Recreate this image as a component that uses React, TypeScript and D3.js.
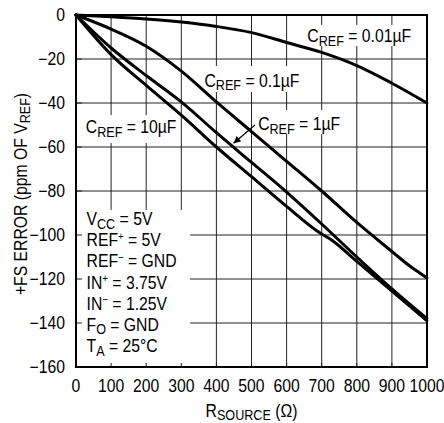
import React from "react";
import * as d3 from "d3";

// ---- data ----
const xTicks = [0, 100, 200, 300, 400, 500, 600, 700, 800, 900, 1000];
const yTicks = [0, -20, -40, -60, -80, -100, -120, -140, -160];

const cref001R = [0, 100, 200, 300, 400, 500, 600, 700, 800, 900, 1000];
const cref001V = [0, -0.8, -1.8, -3.2, -5.2, -8, -12.5, -17, -23, -31, -40];

const cref01R = [0, 100, 200, 300, 400, 500, 600, 700, 800, 900, 950, 1000];
const cref01V = [0, -6.4, -14.2, -25.5, -39.5, -53, -66.5, -80, -94.3, -107.5, -114, -119.5];

const cref1R = [0, 100, 200, 300, 400, 500, 600, 700, 800, 900, 1000];
const cref1V = [0, -15, -27.5, -39.5, -53.5, -67, -80.5, -95, -110, -124.5, -138];

const cref10R = [0, 100, 200, 300, 400, 500, 600, 690, 730, 800, 900, 1000];
const cref10V = [0, -18, -32, -45.5, -60, -73.5, -87, -98.5, -102.5, -112, -125.5, -139];

const conditionLines = [
  [{ t: "V" }, { t: "CC", s: "sub" }, { t: " = 5V" }],
  [{ t: "REF" }, { t: "+", s: "sup" }, { t: " = 5V" }],
  [{ t: "REF" }, { t: "\u2212", s: "sup" }, { t: " = GND" }],
  [{ t: "IN" }, { t: "+", s: "sup" }, { t: " = 3.75V" }],
  [{ t: "IN" }, { t: "\u2212", s: "sup" }, { t: " = 1.25V" }],
  [{ t: "F" }, { t: "O", s: "sub" }, { t: " = GND" }],
  [{ t: "T" }, { t: "A", s: "sub" }, { t: " = 25\u00B0C" }],
];

type Seg = { t: string; s?: "sub" | "sup" };

const W = 444;
const H = 423;
const FS = 17.5;
const SX = 0.9;
const FONT = "'Liberation Sans', Arial, Helvetica, sans-serif";

const x = d3.scaleLinear().domain([0, 1000]).range([76, 427]);
const y = d3.scaleLinear().domain([0, -160]).range([15, 367]);

function Rich({ segs, fs = FS }: { segs: Seg[]; fs?: number }) {
  let off = 0;
  return (
    <>
      {segs.map((sg, i) => {
        let target = 0;
        let size = fs;
        if (sg.s === "sub") {
          target = fs * 0.2;
          size = fs * 0.8;
        } else if (sg.s === "sup") {
          target = -fs * 0.38;
          size = fs * 0.62;
        }
        const dy = target - off;
        off = target;
        return (
          <tspan key={i} dy={dy} fontSize={size}>
            {sg.t}
          </tspan>
        );
      })}
    </>
  );
}

function Label({ px, py, segs, anchor = "start", rotate = 0 }: { px: number; py: number; segs: Seg[]; anchor?: string; rotate?: number }) {
  return (
    <g transform={`translate(${px},${py}) rotate(${rotate}) scale(${SX},1)`}>
      <text x={0} y={0} textAnchor={anchor} fontSize={FS} fontFamily={FONT} fill="#000">
        <Rich segs={segs} />
      </text>
    </g>
  );
}

const crefLabel = (v: string): Seg[] => [{ t: "C" }, { t: "REF", s: "sub" }, { t: ` = ${v}\u00B5F` }];

// annotation placements (data units)
const labels = [
  { r: 659, v: -12.3, segs: crefLabel("0.01") },
  { r: 366, v: -32.7, segs: crefLabel("0.1") },
  { r: 28, v: -53.8, segs: crefLabel("10") },
  { r: 519, v: -52.3, segs: crefLabel("1") },
];
const boxes = [
  { r0: 650, r1: 971, v0: -4.5, v1: -14.1 },
  { r0: 359, r1: 644, v0: -23.2, v1: -35 },
  { r0: 507, r1: 758, v0: -43.2, v1: -54.1 },
  { r0: 17, r1: 293, v0: -45.5, v1: -58.2 },
  { r0: 0, r1: 325, v0: -88.6, v1: -160 },
];

export default function App() {
  const line = d3
    .line<[number, number]>()
    .x((d) => x(d[0]))
    .y((d) => y(d[1]))
    .curve(d3.curveMonotoneX);

  const series = [
    [cref001R, cref001V],
    [cref01R, cref01V],
    [cref1R, cref1V],
    [cref10R, cref10V],
  ].map(([r, v]) => r.map((rr, i) => [rr, v[i]] as [number, number]));

  const [x0, x1] = x.range();
  const [y0, y1] = y.range();

  return (
    <svg
      width={W}
      height={H}
      style={{ position: "absolute", left: 0, top: 0, background: "#fff" }}
    >
      <defs>
        <marker id="ah" viewBox="0 0 10 10" refX="10" refY="5" markerWidth="8" markerHeight="7" markerUnits="userSpaceOnUse" orient="auto">
          <path d="M0,0 L10,5 L0,10 z" fill="#000" />
        </marker>
      </defs>
      <rect x={0} y={0} width={W} height={H} fill="#fff" />
      {/* grid */}
      {xTicks.map((t) => (
        <line key={"gx" + t} x1={x(t)} x2={x(t)} y1={y0} y2={y1} stroke="#222" strokeWidth={1} />
      ))}
      {yTicks.map((t) => (
        <line key={"gy" + t} x1={x0} x2={x1} y1={y(t)} y2={y(t)} stroke="#222" strokeWidth={1} />
      ))}
      {/* label backgrounds */}
      {boxes.map((b, i) => (
        <rect
          key={"b" + i}
          x={x(b.r0)}
          y={y(b.v0)}
          width={x(b.r1) - x(b.r0)}
          height={y(b.v1) - y(b.v0)}
          fill="#fff"
        />
      ))}
      {/* inward ticks */}
      {xTicks.map((t) => (
        <line key={"tx" + t} x1={x(t)} x2={x(t)} y1={y1} y2={y1 - 4} stroke="#222" strokeWidth={1} />
      ))}
      {yTicks.map((t) => (
        <line key={"ty" + t} x1={x0} x2={x0 + 6} y1={y(t)} y2={y(t)} stroke="#222" strokeWidth={1} />
      ))}
      {/* curves */}
      {series.map((s, i) => (
        <path key={"s" + i} d={line(s) || ""} fill="none" stroke="#000" strokeWidth={3} strokeLinejoin="round" strokeLinecap="round" />
      ))}
      {/* frame */}
      <rect x={x0} y={y0} width={x1 - x0} height={y1 - y0} fill="none" stroke="#000" strokeWidth={2} />
      {/* tick labels */}
      {xTicks.map((t) => (
        <Label key={"lx" + t} px={x(t)} py={391.5} anchor="middle" segs={[{ t: String(t) }]} />
      ))}
      {yTicks.map((t) => (
        <Label
          key={"ly" + t}
          px={65}
          py={y(t) + 6.3}
          anchor="end"
          segs={[{ t: t < 0 ? "\u2212" + Math.abs(t) : String(t) }]}
        />
      ))}
      {/* axis titles */}
      <Label px={251.5} py={416.5} anchor="middle" segs={[{ t: "R" }, { t: "SOURCE", s: "sub" }, { t: " (\u03A9)" }]} />
      <Label
        px={26.5}
        py={194}
        anchor="middle"
        rotate={-90}
        segs={[{ t: "+FS ERROR (ppm OF V" }, { t: "REF", s: "sub" }, { t: ")" }]}
      />
      {/* curve labels */}
      {labels.map((l, i) => (
        <Label key={"cl" + i} px={x(l.r)} py={y(l.v)} segs={l.segs} />
      ))}
      {/* arrow for 1uF */}
      <line x1={x(510)} y1={y(-50)} x2={x(449)} y2={y(-58.3)} stroke="#000" strokeWidth={1.2} markerEnd="url(#ah)" />
      {/* conditions */}
      {conditionLines.map((segs, i) => (
        <Label key={"c" + i} px={x(30)} py={y(-95.5 - i * 9.62)} segs={segs as Seg[]} />
      ))}
    </svg>
  );
}
